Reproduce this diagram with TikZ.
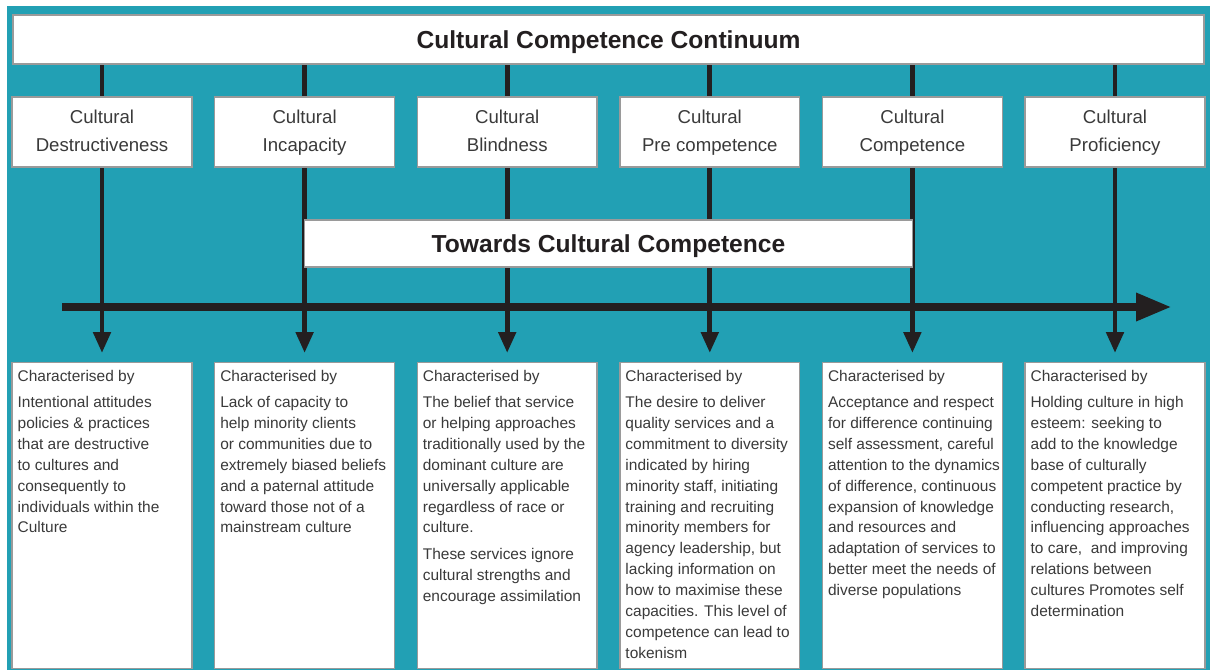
\documentclass[tikz,border=0pt]{standalone}
\usepackage{fontspec}
\setmainfont{Liberation Sans}
\usetikzlibrary{arrows.meta,backgrounds}

\definecolor{tealbg}{HTML}{22A0B4}
\definecolor{inkdark}{HTML}{231F20}
\definecolor{boxline}{HTML}{9A9A9A}
\definecolor{textgray}{HTML}{3A3A3A}

\tikzset{
  bar/.style={draw=boxline, line width=0.8pt, fill=white, inner sep=0pt,
    text height=10pt, text depth=0pt,
    font=\bfseries\fontsize{14}{17}\selectfont, text=inkdark},
  stagebox/.style={draw=boxline, line width=0.8pt, fill=white, inner sep=0pt,
    minimum width=3.6cm, minimum height=1.4cm, align=center,
    font=\fontsize{10.6}{15.9}\selectfont, text=textgray},
  descbox/.style={draw=boxline, line width=0.8pt, fill=white, inner sep=0pt,
    minimum width=3.6cm, minimum height=6.12cm, anchor=north},
  desctext/.style={anchor=north west, inner sep=0pt, align=left,
    font=\fontsize{8.8}{11.9}\selectfont, text=textgray},
  link/.style={draw=inkdark, line width=2.8pt},
}

\begin{document}
\begin{tikzpicture}[x=0.02cm, y=-0.02cm]

      \useasboundingbox (0,0) rectangle (1210,670);

      % header bar
      \node[bar, minimum width=23.82cm, minimum height=0.98cm] (title) at (608.5,39.5)
        {Cultural Competence Continuum};

      % stages and their descriptions
      \foreach \i/\x/\name in {1/102/{Cultural\\Destructiveness},
                               2/304.6/{Cultural\\Incapacity},
                               3/507.2/{Cultural\\Blindness},
                               4/709.8/{Cultural\\Pre competence},
                               5/912.4/{Cultural\\Competence},
                               6/1115/{Cultural\\Proficiency}}{
        \node[stagebox] (s\i) at (\x,132) {\strut\name\strut};
        \node[descbox] (d\i) at (\x,362) {};
      }

      \node[bar, minimum width=12.156cm, minimum height=0.94cm] (towards) at (608.5,243.5)
        {Towards Cultural Competence};

      \node[desctext] (t1) at ([shift={(6,8)}]d1.north west)
        {Characterised by\\[0.1cm]
         Intentional attitudes\\ policies \& practices\\ that are destructive\\
         to cultures and\\ consequently to\\ individuals within the\\ Culture};
      \node[desctext] (t2) at ([shift={(6,8)}]d2.north west)
        {Characterised by\\[0.1cm]
         Lack of capacity to\\ help minority clients\\ or communities due to\\
         extremely biased beliefs\\ and a paternal attitude\\ toward those not of a\\
         mainstream culture};
      \node[desctext] (t3) at ([shift={(6,8)}]d3.north west)
        {Characterised by\\[0.1cm]
         The belief that service\\ or helping approaches\\ traditionally used by the\\
         dominant culture are\\ universally applicable\\ regardless of race or\\
         culture.\\[0.12cm]
         These services ignore\\ cultural strengths and\\ encourage assimilation};
      \node[desctext] (t4) at ([shift={(6,8)}]d4.north west)
        {Characterised by\\[0.1cm]
         The desire to deliver\\ quality services and a\\ commitment to diversity\\
         indicated by hiring\\ minority staff, initiating\\ training and recruiting\\
         minority members for\\ agency leadership, but\\ lacking information on\\
         how to maximise these\\ capacities. This level of\\ competence can lead to\\
         tokenism};
      \node[desctext] (t5) at ([shift={(6,8)}]d5.north west)
        {Characterised by\\[0.1cm]
         Acceptance and respect\\ for difference continuing\\ self assessment, careful\\
         attention to the dynamics\\ of difference, continuous\\ expansion of knowledge\\
         and resources and\\ adaptation of services to\\ better meet the needs of\\
         diverse populations};
      \node[desctext] (t6) at ([shift={(6,8)}]d6.north west)
        {Characterised by\\[0.1cm]
         Holding culture in high\\ esteem: seeking to\\ add to the knowledge\\
         base of culturally\\ competent practice by\\ conducting research,\\
         influencing approaches\\ to care,\ \ and improving\\ relations between\\
         cultures Promotes self\\ determination};

      % the continuum axis
      \coordinate (axisstart) at (62,307);
      \coordinate (axisend) at (1172,307);
      \draw[link, line width=5.1pt, -{Triangle[length=0.72cm, width=0.52cm]}]
        (axisstart) -- (axisend);

      % background and vertical links
      \begin{scope}[on background layer]
        \fill[white] (0,0) rectangle (1210,670);
        \fill[tealbg] (7,6) rectangle (1210,670);
        \foreach \i in {1,...,6}{
          \draw[link] (s\i.north |- title.south) -- (s\i.north);
          \draw[link, -{Triangle[length=0.42cm, width=0.34cm]}, shorten >=0.18cm]
            (s\i.south) -- (d\i.north);
        }
      \end{scope}

    \end{tikzpicture}
\end{document}
